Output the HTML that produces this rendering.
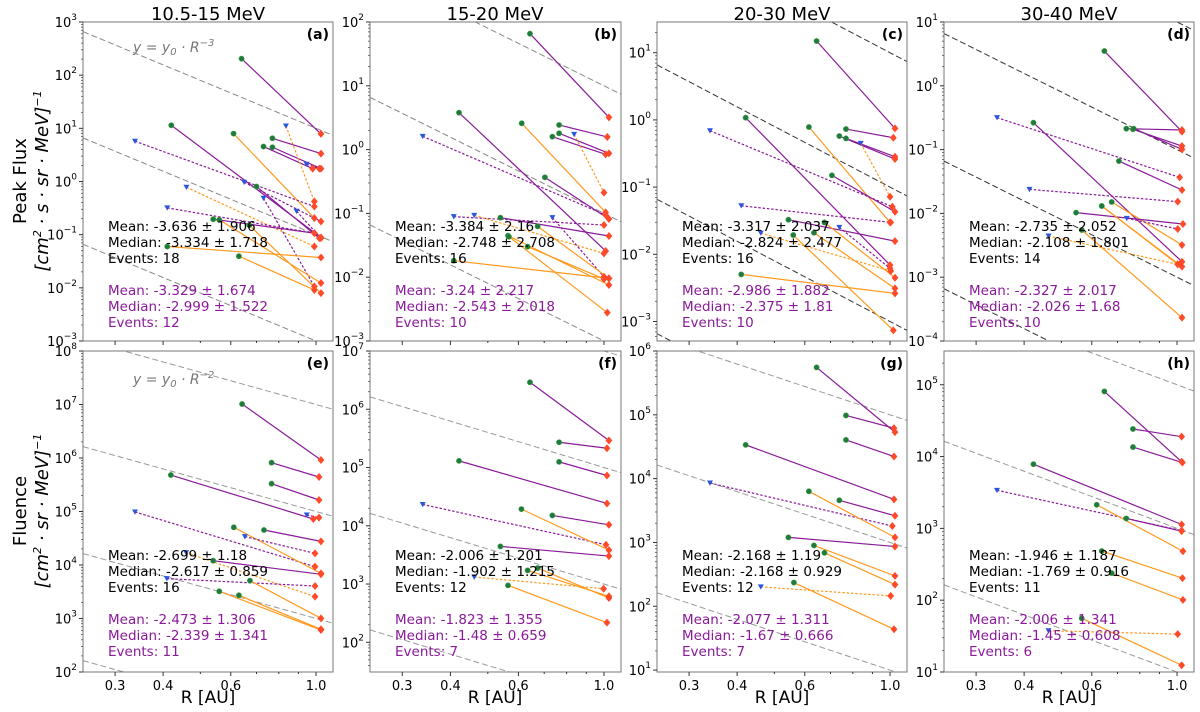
<!DOCTYPE html>
<html><head><meta charset="utf-8">
<style>
html,body{margin:0;padding:0;background:#fff;width:1200px;height:712px;overflow:hidden;}
svg{display:block;font-family:"DejaVu Sans","Liberation Sans",sans-serif;}
</style></head>
<body>
<svg id="fig" width="1200" height="712" viewBox="0 0 1200 712" xmlns="http://www.w3.org/2000/svg" overflow="hidden">
<text x="208" y="20" font-size="18" text-anchor="middle">10.5-15 MeV</text>
<text x="495" y="20" font-size="18" text-anchor="middle">15-20 MeV</text>
<text x="782" y="20" font-size="18" text-anchor="middle">20-30 MeV</text>
<text x="1069" y="20" font-size="18" text-anchor="middle">30-40 MeV</text>
<g transform="translate(34,181) rotate(-90)">
<text x="0" y="-8" font-size="18" text-anchor="middle">Peak Flux</text>
<text x="0" y="14" font-size="18" text-anchor="middle" font-style="italic">[cm<tspan font-size="11" dy="-7">2</tspan><tspan dy="7"> · s · sr · MeV]</tspan><tspan font-size="11" dy="-7">−1</tspan></text>
</g>
<g transform="translate(34,511) rotate(-90)">
<text x="0" y="-8" font-size="18" text-anchor="middle">Fluence</text>
<text x="0" y="14" font-size="18" text-anchor="middle" font-style="italic">[cm<tspan font-size="11" dy="-7">2</tspan><tspan dy="7"> · sr · MeV]</tspan><tspan font-size="11" dy="-7">−1</tspan></text>
</g>
<text x="208" y="703" font-size="17" text-anchor="middle">R [AU]</text>
<text x="495" y="703" font-size="17" text-anchor="middle">R [AU]</text>
<text x="782" y="703" font-size="17" text-anchor="middle">R [AU]</text>
<text x="1069" y="703" font-size="17" text-anchor="middle">R [AU]</text>
<text x="133" y="52" font-size="14" fill="#777" font-style="italic">y = y<tspan font-size="10" dy="3">0</tspan><tspan dy="-3"> · R</tspan><tspan font-size="10" dy="-6">−3</tspan></text>
<text x="133" y="384" font-size="14" fill="#777" font-style="italic">y = y<tspan font-size="10" dy="3">0</tspan><tspan dy="-3"> · R</tspan><tspan font-size="10" dy="-6">−2</tspan></text>
</svg>
<script>
// ---- data (R in AU, log10 of flux / fluence) ----
const A_kind="PPOPPPopopPppPOOOOpp";
const A_rStart=[0.64,0.42,0.61,0.77,0.73,0.77,0.835,0.338,0.46,0.65,0.70,0.73,0.41,0.54,0.67,0.41,0.63,0.56,0.945,0.89];
const A_logStart=[2.31,1.058,0.901,0.813,0.657,0.644,1.045,0.757,-0.108,-0.014,-0.095,-0.315,-0.496,-0.709,-0.822,-1.223,-1.405,-0.72,0.325,-0.559];
const A_rEnd=[1.03,1.03,0.99,1.03,0.98,1.03,0.99,0.99,0.99,1.03,1.02,0.99,0.99,0.99,1.03,1.03,0.99,1.03,1.02,1.03];
const A_logEnd=[0.895,-1.054,-0.690,0.525,0.243,0.243,-0.377,-0.471,-1.223,-0.753,-1.066,-1.975,-0.972,-0.972,-2.10,-1.43,-2.04,-1.91,0.243,-1.066];

const B_kind="PPOPPPopPpoPpOOOOO";
const B_rStart=[0.643,0.421,0.612,0.765,0.735,0.765,0.837,0.339,0.703,0.408,0.461,0.539,0.735,0.673,0.564,0.634,0.408,0.567];
const B_logStart=[1.817,0.579,0.412,0.386,0.203,0.255,0.239,0.208,-0.435,-1.051,-1.03,-1.067,-1.067,-1.203,-1.349,-1.521,-1.741,-1.365];
const B_rEnd=[1.03,1.01,1.01,1.02,1.01,1.03,1.0,1.01,1.03,1.0,1.0,1.03,1.0,1.03,1.03,1.0,1.03,1.02];
const B_logEnd=[0.506,-1.589,-0.983,0.198,-0.074,-0.059,-0.675,-1.025,-1.088,-1.182,-1.626,-1.354,-1.992,-2.018,-2.122,-2.028,-2.018,-2.556];

const C_kind="PPOPPPopPpPpoOOOO";
const C_rStart=[0.644,0.421,0.615,0.768,0.738,0.768,0.839,0.340,0.706,0.410,0.544,0.738,0.461,0.675,0.634,0.410,0.560];
const C_logStart=[1.174,0.033,-0.106,-0.136,-0.240,-0.275,-0.349,-0.161,-0.825,-1.277,-1.485,-1.599,-1.684,-1.525,-1.679,-2.299,-1.713];
const C_rEnd=[1.03,1.0,1.0,1.02,1.03,1.03,1.0,1.014,1.03,1.004,1.03,1.0,1.004,1.03,1.03,1.03,1.02];
const C_logEnd=[-0.126,-2.16,-1.525,-0.265,-0.582,-0.548,-1.143,-1.292,-1.366,-1.525,-1.803,-2.209,-2.249,-2.348,-2.507,-2.581,-3.132];

const D_kind="PPPPpPPpOOPpoOO";
const D_rStart=[0.647,0.738,0.768,0.771,0.340,0.423,0.706,0.413,0.637,0.676,0.546,0.740,0.463,0.565,0.637];
const D_logStart=[0.545,-0.672,-0.682,-0.672,-0.499,-0.578,-1.179,-1.623,-1.884,-1.821,-1.988,-2.077,-2.354,-2.260,-1.884];
const D_rEnd=[1.03,1.03,1.03,1.03,1.016,1.03,1.03,1.004,1.004,1.03,1.036,1.004,1.004,1.03,1.03];
const D_logEnd=[-0.719,-0.693,-0.944,-0.996,-1.435,-2.757,-1.633,-1.816,-2.798,-2.495,-2.166,-2.244,-2.798,-3.634,-2.835];

const E_kind="PPPPppOPpoPpOOO";
const E_rStart=[0.642,0.766,0.766,0.419,0.946,0.338,0.611,0.732,0.653,0.459,0.540,0.409,0.673,0.560,0.630];
const E_logStart=[7.009,5.913,5.520,5.682,4.935,4.991,4.704,4.654,4.530,4.231,4.081,3.745,3.707,3.508,3.433];
const E_rEnd=[1.03,1.018,1.018,0.984,1.018,0.994,1.03,1.03,0.994,0.994,1.03,0.994,1.03,1.03,1.03];
const E_logEnd=[5.963,5.645,5.215,4.860,4.885,3.969,3.844,4.442,4.218,3.408,3.826,3.607,3.003,2.785,2.798];

const F_kind="PPPPpOPPOOoO";
const F_rStart=[0.643,0.765,0.765,0.421,0.339,0.611,0.735,0.539,0.673,0.634,0.461,0.564];
const F_logStart=[6.463,5.434,5.097,5.114,4.366,4.286,4.177,3.646,3.274,3.234,3.120,2.977];
const F_rEnd=[1.03,1.018,1.018,1.018,1.012,1.03,1.03,1.03,1.03,1.03,0.998,1.018];
const F_logEnd=[5.463,5.331,4.863,4.383,3.674,3.583,4.017,3.480,2.760,2.789,2.920,2.337];

const G_kind="PPPPpOPPOOoO";
const G_rStart=[0.644,0.768,0.768,0.421,0.340,0.615,0.738,0.544,0.634,0.675,0.461,0.562];
const G_logStart=[5.743,4.990,4.607,4.529,3.932,3.801,3.660,3.079,2.953,2.838,2.304,2.372];
const G_rEnd=[1.03,1.024,1.024,1.024,1.014,1.03,1.03,1.03,1.03,1.03,1.004,1.024];
const G_logEnd=[4.728,4.791,4.346,3.675,3.257,3.079,3.419,2.937,2.476,2.340,2.162,1.639];

const H_kind="PPPPpPOOOOo";
const H_rStart=[0.647,0.768,0.768,0.423,0.340,0.738,0.618,0.637,0.676,0.565,0.463];
const H_logStart=[4.907,4.384,4.132,3.894,3.530,3.138,3.329,2.685,2.377,1.748,1.575];
const H_rEnd=[1.028,1.028,1.033,1.028,1.028,1.028,1.036,1.033,1.036,1.028,1.004];
const H_logEnd=[3.927,4.277,3.917,3.054,2.970,2.961,2.681,2.307,2.004,1.094,1.528];

const refLogY0_peak=[1,-1,-3,-5];
const refLogY0_fluA=[7,5,3,1];
const refLogY0_fluB=[5,3,1,-1];
const xTickValues=[0.3,0.4,0.6,1.0];
const xTickLabels=["0.3","0.4","0.6","1.0"];
const xMinorValues=[0.5,0.7,0.8,0.9];

const statsBlack={a:["Mean: -3.636 ± 1.906","Median: -3.334 ± 1.718","Events: 18"],b:["Mean: -3.384 ± 2.16","Median: -2.748 ± 2.708","Events: 16"],c:["Mean: -3.317 ± 2.037","Median: -2.824 ± 2.477","Events: 16"],d:["Mean: -2.735 ± 2.052","Median: -2.108 ± 1.801","Events: 14"],e:["Mean: -2.699 ± 1.18","Median: -2.617 ± 0.859","Events: 16"],f:["Mean: -2.006 ± 1.201","Median: -1.902 ± 1.215","Events: 12"],g:["Mean: -2.168 ± 1.19","Median: -2.168 ± 0.929","Events: 12"],h:["Mean: -1.946 ± 1.187","Median: -1.769 ± 0.916","Events: 11"]};
const statsPurple={a:["Mean: -3.329 ± 1.674","Median: -2.999 ± 1.522","Events: 12"],b:["Mean: -3.24 ± 2.217","Median: -2.543 ± 2.018","Events: 10"],c:["Mean: -2.986 ± 1.882","Median: -2.375 ± 1.81","Events: 10"],d:["Mean: -2.327 ± 2.017","Median: -2.026 ± 1.68","Events: 10"],e:["Mean: -2.473 ± 1.306","Median: -2.339 ± 1.341","Events: 11"],f:["Mean: -1.823 ± 1.355","Median: -1.48 ± 0.659","Events: 7"],g:["Mean: -2.077 ± 1.311","Median: -1.67 ± 0.666","Events: 7"],h:["Mean: -2.006 ± 1.341","Median: -1.45 ± 0.608","Events: 6"]};

const NS="http://www.w3.org/2000/svg";
const svg=document.getElementById('fig');
const RMIN=0.2475,RMAX=1.107;
function mk(tag,attrs,parent){const e=document.createElementNS(NS,tag);for(const k in attrs)e.setAttribute(k,attrs[k]);(parent||svg).appendChild(e);return e;}

const panels=[
 {id:'a',left:83,top:22,w:250,h:319,ylo:-3,yhi:3,kind:A_kind,rs:A_rStart,ls:A_logStart,re:A_rEnd,le:A_logEnd,ref:refLogY0_peak,slope:-3,refc:'#888',xl:false},
 {id:'b',left:370,top:22,w:251,h:319,ylo:-3,yhi:2,kind:B_kind,rs:B_rStart,ls:B_logStart,re:B_rEnd,le:B_logEnd,ref:refLogY0_peak,slope:-3,refc:'#888',xl:false},
 {id:'c',left:657,top:22,w:250,h:319,ylo:-3.29,yhi:1.457,kind:C_kind,rs:C_rStart,ls:C_logStart,re:C_rEnd,le:C_logEnd,ref:refLogY0_peak,slope:-3,refc:'#333',xl:false},
 {id:'d',left:944,top:22,w:250,h:319,ylo:-4,yhi:1,kind:D_kind,rs:D_rStart,ls:D_logStart,re:D_rEnd,le:D_logEnd,ref:refLogY0_peak,slope:-3,refc:'#333',xl:false},
 {id:'e',left:83,top:351,w:250,h:321,ylo:2,yhi:8,kind:E_kind,rs:E_rStart,ls:E_logStart,re:E_rEnd,le:E_logEnd,ref:refLogY0_fluA,slope:-2,refc:'#999',xl:true},
 {id:'f',left:370,top:351,w:251,h:321,ylo:1.49,yhi:7,kind:F_kind,rs:F_rStart,ls:F_logStart,re:F_rEnd,le:F_logEnd,ref:refLogY0_fluA,slope:-2,refc:'#999',xl:true},
 {id:'g',left:657,top:351,w:250,h:321,ylo:0.97,yhi:6,kind:G_kind,rs:G_rStart,ls:G_logStart,re:G_rEnd,le:G_logEnd,ref:refLogY0_fluB,slope:-2,refc:'#999',xl:true},
 {id:'h',left:944,top:351,w:250,h:321,ylo:1,yhi:5.47,kind:H_kind,rs:H_rStart,ls:H_logStart,re:H_rEnd,le:H_logEnd,ref:refLogY0_fluB,slope:-2,refc:'#999',xl:true}
];
const PURPLE='#8a1a9a',ORANGE='#ff9a1f',RED='#ff4a2a',GREEN='#1f7a3f',BLUE='#2a55dd';

panels.forEach(p=>{
  const xs=r=>p.left+(Math.log10(r)-Math.log10(RMIN))/(Math.log10(RMAX)-Math.log10(RMIN))*p.w;
  const ys=l=>p.top+(p.yhi-l)/(p.yhi-p.ylo)*p.h;
  const g=mk('g',{});
  
  
  const cp=mk('clipPath',{id:'clip-'+p.id},g);
  mk('rect',{x:p.left,y:p.top,width:p.w,height:p.h},cp);
  const inner=mk('g',{'clip-path':'url(#clip-'+p.id+')'},g);
  p.ref.forEach(k=>{
    const l0=k+p.slope*Math.log10(RMIN),l1=k+p.slope*Math.log10(RMAX);
    const ln=mk('line',{x1:xs(RMIN),y1:ys(l0),x2:xs(RMAX),y2:ys(l1),stroke:p.refc,'stroke-width':1,'stroke-dasharray':'6,3'},inner);
    
    
  });
  for(let i=0;i<p.rs.length;i++){
    const kd=p.kind[i];const col=(kd==='P'||kd==='p')?PURPLE:ORANGE;const dotted=(kd==='p'||kd==='o');
    const ln=mk('line',{x1:xs(p.rs[i]),y1:ys(p.ls[i]),x2:xs(p.re[i]),y2:ys(p.le[i]),stroke:col,'stroke-width':1.2},inner);
    if(dotted)ln.setAttribute('stroke-dasharray','2.5,1.8');
    
    
  }
  for(let i=0;i<p.rs.length;i++){
    const kd=p.kind[i];const dotted=(kd==='p'||kd==='o');
    const x0=xs(p.rs[i]),y0=ys(p.ls[i]);
    let m;
    if(dotted){m=mk('path',{d:`M${x0-3},${y0-2.5} L${x0+3},${y0-2.5} L${x0},${y0+2.8} Z`,fill:BLUE},inner);
      }
    else{m=mk('circle',{cx:x0,cy:y0,r:2.6,fill:GREEN,stroke:'#3a9a3a','stroke-width':0.6},inner);
      }
    
    const x1=xs(p.re[i]),y1=ys(p.le[i]);
    const dm=mk('path',{d:`M${x1},${y1-4} L${x1+3.4},${y1} L${x1},${y1+4} L${x1-3.4},${y1} Z`,fill:RED},inner);
    
    
  }
  const fr=mk('rect',{x:p.left,y:p.top,width:p.w,height:p.h,fill:'none',stroke:'#777','stroke-width':1},g);
  
  
  xTickValues.forEach((v,j)=>{
    const x=xs(v);
    mk('line',{x1:x,y1:p.top+p.h,x2:x,y2:p.top+p.h+4,stroke:'#333'},g);
    if(p.xl){const t=mk('text',{x:x,y:p.top+p.h+18,'font-size':13,'text-anchor':'middle'},g);t.textContent=xTickLabels[j];
      
      }
  });
  xMinorValues.forEach(v=>{const x=xs(v);mk('line',{x1:x,y1:p.top+p.h,x2:x,y2:p.top+p.h+2,stroke:'#333'},g);});
  for(let k=Math.ceil(p.ylo-1);k<=Math.floor(p.yhi);k++){
    if(k>=p.ylo-1e-6){
      const y=ys(k);
      mk('line',{x1:p.left-4,y1:y,x2:p.left,y2:y,stroke:'#333'},g);
      const t=mk('text',{x:p.left-6,y:y+5,'font-size':13,'text-anchor':'end'},g);
      
      
      const s=(k<0?'−':'')+Math.abs(k);
      t.innerHTML='10<tspan font-size="9" dy="-7">'+s+'</tspan>';
    }
    for(let m=2;m<10;m++){const l=k+Math.log10(m);if(l>p.ylo&&l<p.yhi){const y=ys(l);mk('line',{x1:p.left-2,y1:y,x2:p.left,y2:y,stroke:'#555','stroke-width':0.8},g);}}
  }
  const pl=mk('text',{x:p.left+p.w-4,y:p.top+17,'font-size':14,'font-weight':'bold','text-anchor':'end'},g);
  pl.textContent='('+p.id+')';
  
  
  const base=p.top+209;
  statsBlack[p.id].forEach((s,j)=>{const t=mk('text',{x:p.left+25,y:base+j*16,'font-size':13.5,fill:'#000'},g);t.textContent=s;
    
    });
  statsPurple[p.id].forEach((s,j)=>{const t=mk('text',{x:p.left+25,y:base+64+j*16,'font-size':13.5,fill:'#8a1a9a'},g);t.textContent=s;
    
    });
});
</script>
</body></html>
